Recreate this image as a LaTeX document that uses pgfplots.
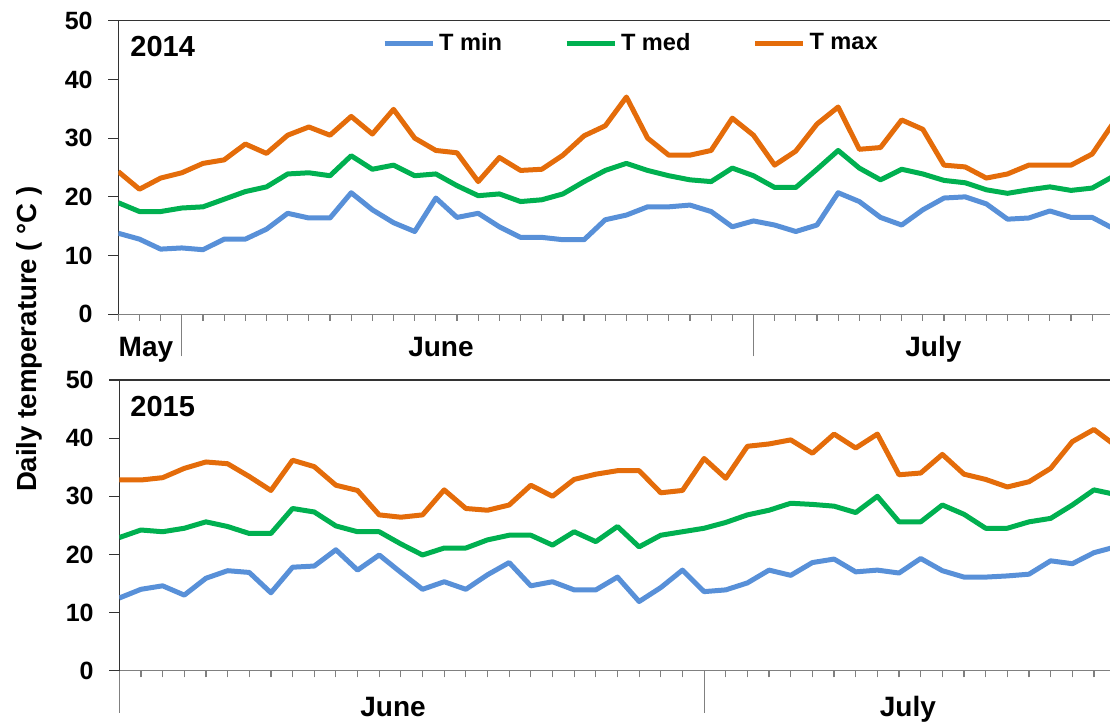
\documentclass[border=0pt]{standalone}
\usepackage{fontspec}
\setmainfont{Liberation Sans}
\usepackage{pgfplots}
\usepackage{pgfplotstable}
\pgfplotsset{compat=1.18}

\definecolor{tmin}{RGB}{88,144,216}
\definecolor{tmed}{RGB}{0,176,80}
\definecolor{tmax}{RGB}{228,108,10}

% Daily temperatures, 2014 season
\pgfplotstableread{
i  tmin tmed tmax
0  13.8 19.0 24.3
1  12.8 17.5 21.3
2  11.1 17.5 23.2
3  11.3 18.1 24.1
4  11.0 18.3 25.7
5  12.8 19.6 26.3
6  12.8 20.9 29.0
7  14.5 21.7 27.4
8  17.2 23.9 30.5
9  16.4 24.1 31.9
10 16.4 23.6 30.5
11 20.7 27.0 33.7
12 17.8 24.7 30.7
13 15.6 25.4 34.9
14 14.1 23.6 30.0
15 19.8 23.9 27.9
16 16.5 21.9 27.5
17 17.2 20.2 22.6
18 14.9 20.5 26.7
19 13.1 19.2 24.5
20 13.1 19.5 24.7
21 12.7 20.5 27.1
22 12.7 22.6 30.4
23 16.1 24.5 32.1
24 16.9 25.7 37.0
25 18.3 24.5 30.0
26 18.3 23.6 27.1
27 18.6 22.9 27.1
28 17.5 22.6 27.9
29 14.9 24.9 33.4
30 15.9 23.6 30.5
31 15.2 21.6 25.4
32 14.1 21.6 27.8
33 15.2 24.7 32.4
34 20.7 27.9 35.3
35 19.2 24.9 28.1
36 16.5 22.9 28.4
37 15.2 24.7 33.1
38 17.8 23.9 31.5
39 19.8 22.8 25.4
40 20.0 22.4 25.1
41 18.8 21.2 23.2
42 16.2 20.6 23.9
43 16.4 21.2 25.4
44 17.6 21.7 25.4
45 16.5 21.1 25.4
46 16.5 21.5 27.3
47 14.6 23.5 32.6
}\dataA

% Daily temperatures, 2015 season
\pgfplotstableread{
i  tmin tmed tmax
0  12.5 22.9 32.8
1  14.0 24.2 32.8
2  14.6 23.9 33.2
3  13.0 24.5 34.8
4  15.9 25.6 35.9
5  17.2 24.8 35.6
6  16.9 23.6 33.4
7  13.4 23.6 31.0
8  17.8 27.9 36.2
9  18.0 27.3 35.1
10 20.8 24.9 31.9
11 17.3 23.9 31.0
12 19.9 23.9 26.8
13 16.9 21.8 26.4
14 14.0 19.9 26.8
15 15.3 21.1 31.1
16 14.0 21.1 27.9
17 16.5 22.5 27.6
18 18.6 23.3 28.5
19 14.6 23.3 31.9
20 15.3 21.6 30.0
21 13.9 23.9 32.9
22 13.9 22.2 33.8
23 16.1 24.8 34.4
24 11.9 21.3 34.4
25 14.3 23.3 30.6
26 17.3 23.9 31.0
27 13.6 24.5 36.5
28 13.9 25.5 33.1
29 15.1 26.8 38.6
30 17.3 27.6 39.0
31 16.4 28.8 39.7
32 18.6 28.6 37.4
33 19.2 28.3 40.7
34 17.0 27.2 38.3
35 17.3 30.0 40.7
36 16.8 25.6 33.7
37 19.3 25.6 34.0
38 17.2 28.5 37.2
39 16.1 26.9 33.8
40 16.1 24.5 32.9
41 16.3 24.5 31.6
42 16.6 25.6 32.5
43 18.9 26.2 34.8
44 18.4 28.5 39.4
45 20.3 31.1 41.5
46 21.3 30.3 38.7
}\dataB

\pgfplotsset{
  panel/.style={
    scale only axis,
    axis lines*=left,
    xmin=0, ymin=0, ymax=50,
    ytick={0,10,...,50},
    xticklabels={},
    tick align=outside,
    major tick length=3.3pt,
    y axis line style={black!80, line width=0.6pt},
    x axis line style={black!50, line width=0.6pt},
    ytick style={black!80, line width=0.6pt, /pgfplots/major tick length=5pt},
    xtick style={black!50, line width=0.6pt},
    extra x tick labels={},
    extra x tick style={major tick length=21pt, tick style={black!85, line width=0.7pt}},
    every tick label/.append style={font=\fontsize{12.5}{14}\selectfont\bfseries},
    yticklabel style={xshift=-6pt},
    /pgf/number format/assume math mode=true,
    clip mode=individual,
    every axis plot/.append style={line width=2.5pt, line join=round, no markers},
    after end axis/.code={\draw[black!80, line width=0.6pt] (rel axis cs:0,1) -- (rel axis cs:1,1);},
  },
}
\tikzset{
  month/.style={font=\fontsize{14}{16}\selectfont\bfseries, inner sep=0pt},
  year/.style={font=\fontsize{14.5}{16}\selectfont\bfseries, inner sep=0pt, anchor=base west},
}

\begin{document}
\begin{tikzpicture}
\useasboundingbox (0,0) rectangle (555pt,364pt);

% 2014 panel
\begin{axis}[panel,
  at={(59.15pt,206.85pt)}, anchor=south west,
  width=495.85pt, height=146.8pt,
  xmax=46.84,
  xtick={0,...,47},
  extra x ticks={3,30},
  legend columns=3,
  legend style={at={(0,1)}, anchor=west, xshift=131.7pt, yshift=-11.3pt,
    draw=none, fill=none, inner sep=0pt,
    font=\fontsize{11.8}{14}\selectfont\bfseries,
    /tikz/every even column/.append style={column sep=29pt}},
  legend image code/.code={\draw[#1, line width=2.5pt] (0pt,0pt) -- (24pt,0pt);},
]
\addplot[tmin] table[x=i, y=tmin] {\dataA};
\addlegendentry{T min}
\addplot[tmed] table[x=i, y=tmed] {\dataA};
\addlegendentry{T med}
\addplot[tmax] table[x=i, y=tmax] {\dataA};
\addlegendentry{T max}
\node[year] at (rel axis cs:0,1) [xshift=5.85pt, yshift=-18pt] {2014};
\node[month, anchor=base west] at (axis cs:0,0) [yshift=-21.35pt] {May};
\node[month, anchor=base] at (axis cs:15.24,0) [yshift=-21.35pt] {June};
\node[month, anchor=base] at (axis cs:38.5,0) [yshift=-21.35pt] {July};
\end{axis}

% 2015 panel
\begin{axis}[panel,
  at={(59.65pt,28.65pt)}, anchor=south west,
  width=495.35pt, height=145.35pt,
  xmax=45.74,
  xtick={0,...,46},
  extra x ticks={0,27},
]
\addplot[tmin] table[x=i, y=tmin] {\dataB};
\addplot[tmed] table[x=i, y=tmed] {\dataB};
\addplot[tmax] table[x=i, y=tmax] {\dataB};
\node[year] at (rel axis cs:0,1) [xshift=5.35pt, yshift=-18.35pt] {2015};
\node[month, anchor=base] at (axis cs:12.64,0) [yshift=-23.15pt] {June};
\node[month, anchor=base] at (axis cs:36.41,0) [yshift=-23.15pt] {July};
\end{axis}

\node[rotate=90, anchor=base, inner sep=0pt, font=\fontsize{13.8}{16}\selectfont\bfseries]
  at (18pt,194.4pt) {Daily temperature ( °C )};
\end{tikzpicture}
\end{document}
